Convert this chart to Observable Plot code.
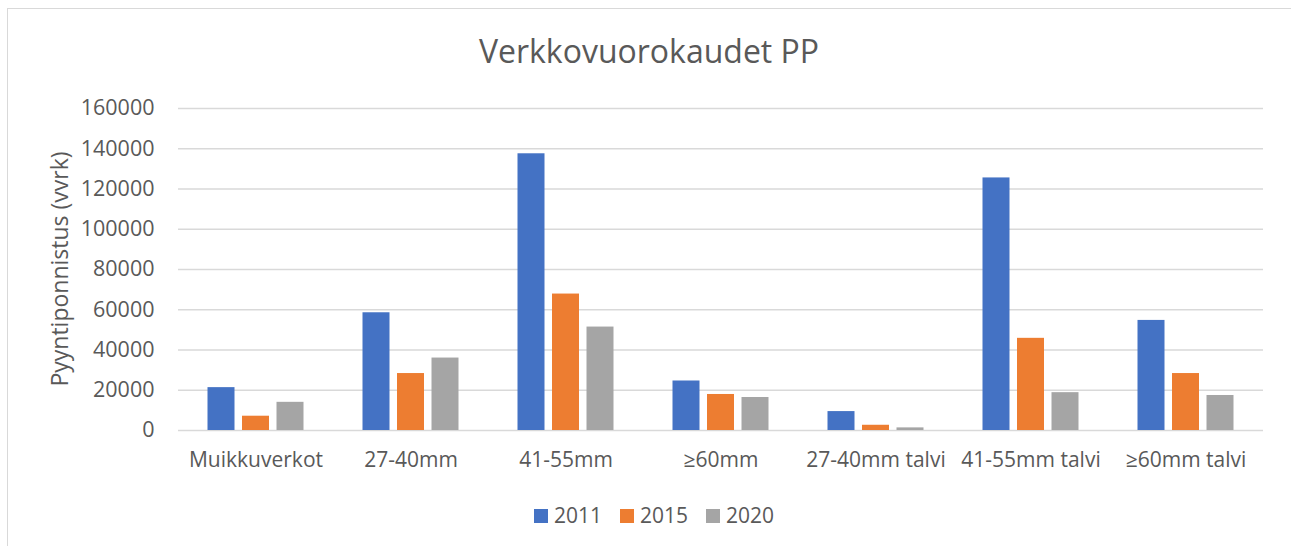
<!DOCTYPE html>
<html>
<head>
<meta charset="utf-8">
<script src="https://cdn.jsdelivr.net/npm/d3@7"></script>
<script src="https://cdn.jsdelivr.net/npm/@observablehq/plot@0.6"></script>
<style>
  html, body { margin: 0; padding: 0; background: #fff; overflow: hidden; }
  #wrap { position: relative; width: 1291px; height: 546px; font-family: "Open Sans", sans-serif; color: #595959; }
  #frame { position: absolute; left: 7px; top: 8px; width: 1320px; height: 600px; border: 1px solid #D9D9D9; box-sizing: border-box; }
  #chart { position: absolute; left: 0; top: 0; }
  #title { position: absolute; left: 0; width: 1298px; top: 35px; text-align: center; font-size: 32px; line-height: 32px; white-space: nowrap; }
  #ylabel { position: absolute; left: 59px; top: 269px; transform: translate(-50%, -50%) rotate(-90deg); font-size: 23px; line-height: 23px; white-space: nowrap; }
  #legend { position: absolute; left: 534px; top: 505px; display: flex; align-items: center; font-size: 21px; line-height: 21px; }
  .item { display: flex; align-items: center; margin-right: 18px; }
  .sw { width: 14px; height: 14px; margin-right: 6px; }
</style>
</head>
<body>
<div id="wrap">
  <div id="frame"></div>
  <div id="chart"></div>
  <div id="title"></div>
  <div id="ylabel"></div>
  <div id="legend"></div>
</div>
<script>
const titleText = "Verkkovuorokaudet PP";
const yLabelText = "Pyyntiponnistus (vvrk)";
const categories = ["Muikkuverkot", "27-40mm", "41-55mm", "≥60mm", "27-40mm talvi", "41-55mm talvi", "≥60mm talvi"];
const years = ["2011", "2015", "2020"];
const values2011 = [21300, 58500, 137500, 24600, 9400, 125500, 54700];
const values2015 = [7100, 28300, 67800, 17900, 2600, 45800, 28300];
const values2020 = [14000, 36000, 51400, 16400, 1300, 18800, 17400];
const yTicks = [0, 20000, 40000, 60000, 80000, 100000, 120000, 140000, 160000];
const colors = ["#4472C4", "#ED7D31", "#A5A5A5"];

const series = [values2011, values2015, values2020];
const data = categories.flatMap((c, i) => years.map((y, j) => ({category: c, year: y, value: series[j][i]})));

const W = 1291, H = 546;
const mL = 178, mR = 28, mT = 108, mB = 116;
const barStep = 34.5;

const barMarks = years.map((yr, j) => Plot.barY(data.filter(d => d.year === yr), {
  x: "category", y: "value", fill: colors[j], dx: (j - 1) * barStep
}));

const chart = Plot.plot({
  width: W, height: H,
  marginLeft: mL, marginRight: mR, marginTop: mT, marginBottom: mB,
  style: {fontFamily: "'Open Sans', sans-serif", fontSize: "21px", color: "#595959", background: "transparent", overflow: "visible"},
  x: {domain: categories, paddingInner: 0.826, paddingOuter: 0.413, label: null},
  y: {domain: [0, 160000], label: null},
  marks: [
    Plot.gridY(yTicks, {stroke: "#D9D9D9", strokeOpacity: 1, strokeWidth: 1.4}),
    ...barMarks,
    Plot.axisX({tickSize: 0, tickPadding: 22, label: null, fontSize: 21}),
    Plot.axisY({ticks: yTicks, tickFormat: d => String(d), tickSize: 0, tickPadding: 24, label: null, fontSize: 21.5})
  ]
});
document.getElementById("chart").appendChild(chart);
document.getElementById("title").textContent = titleText;
document.getElementById("ylabel").textContent = yLabelText;
const legend = document.getElementById("legend");
years.forEach((yr, j) => {
  const it = document.createElement("div");
  it.className = "item";
  const sw = document.createElement("div");
  sw.className = "sw";
  sw.style.background = colors[j];
  const tx = document.createElement("span");
  tx.textContent = yr;
  it.appendChild(sw); it.appendChild(tx);
  legend.appendChild(it);
});
</script>
</body>
</html>
